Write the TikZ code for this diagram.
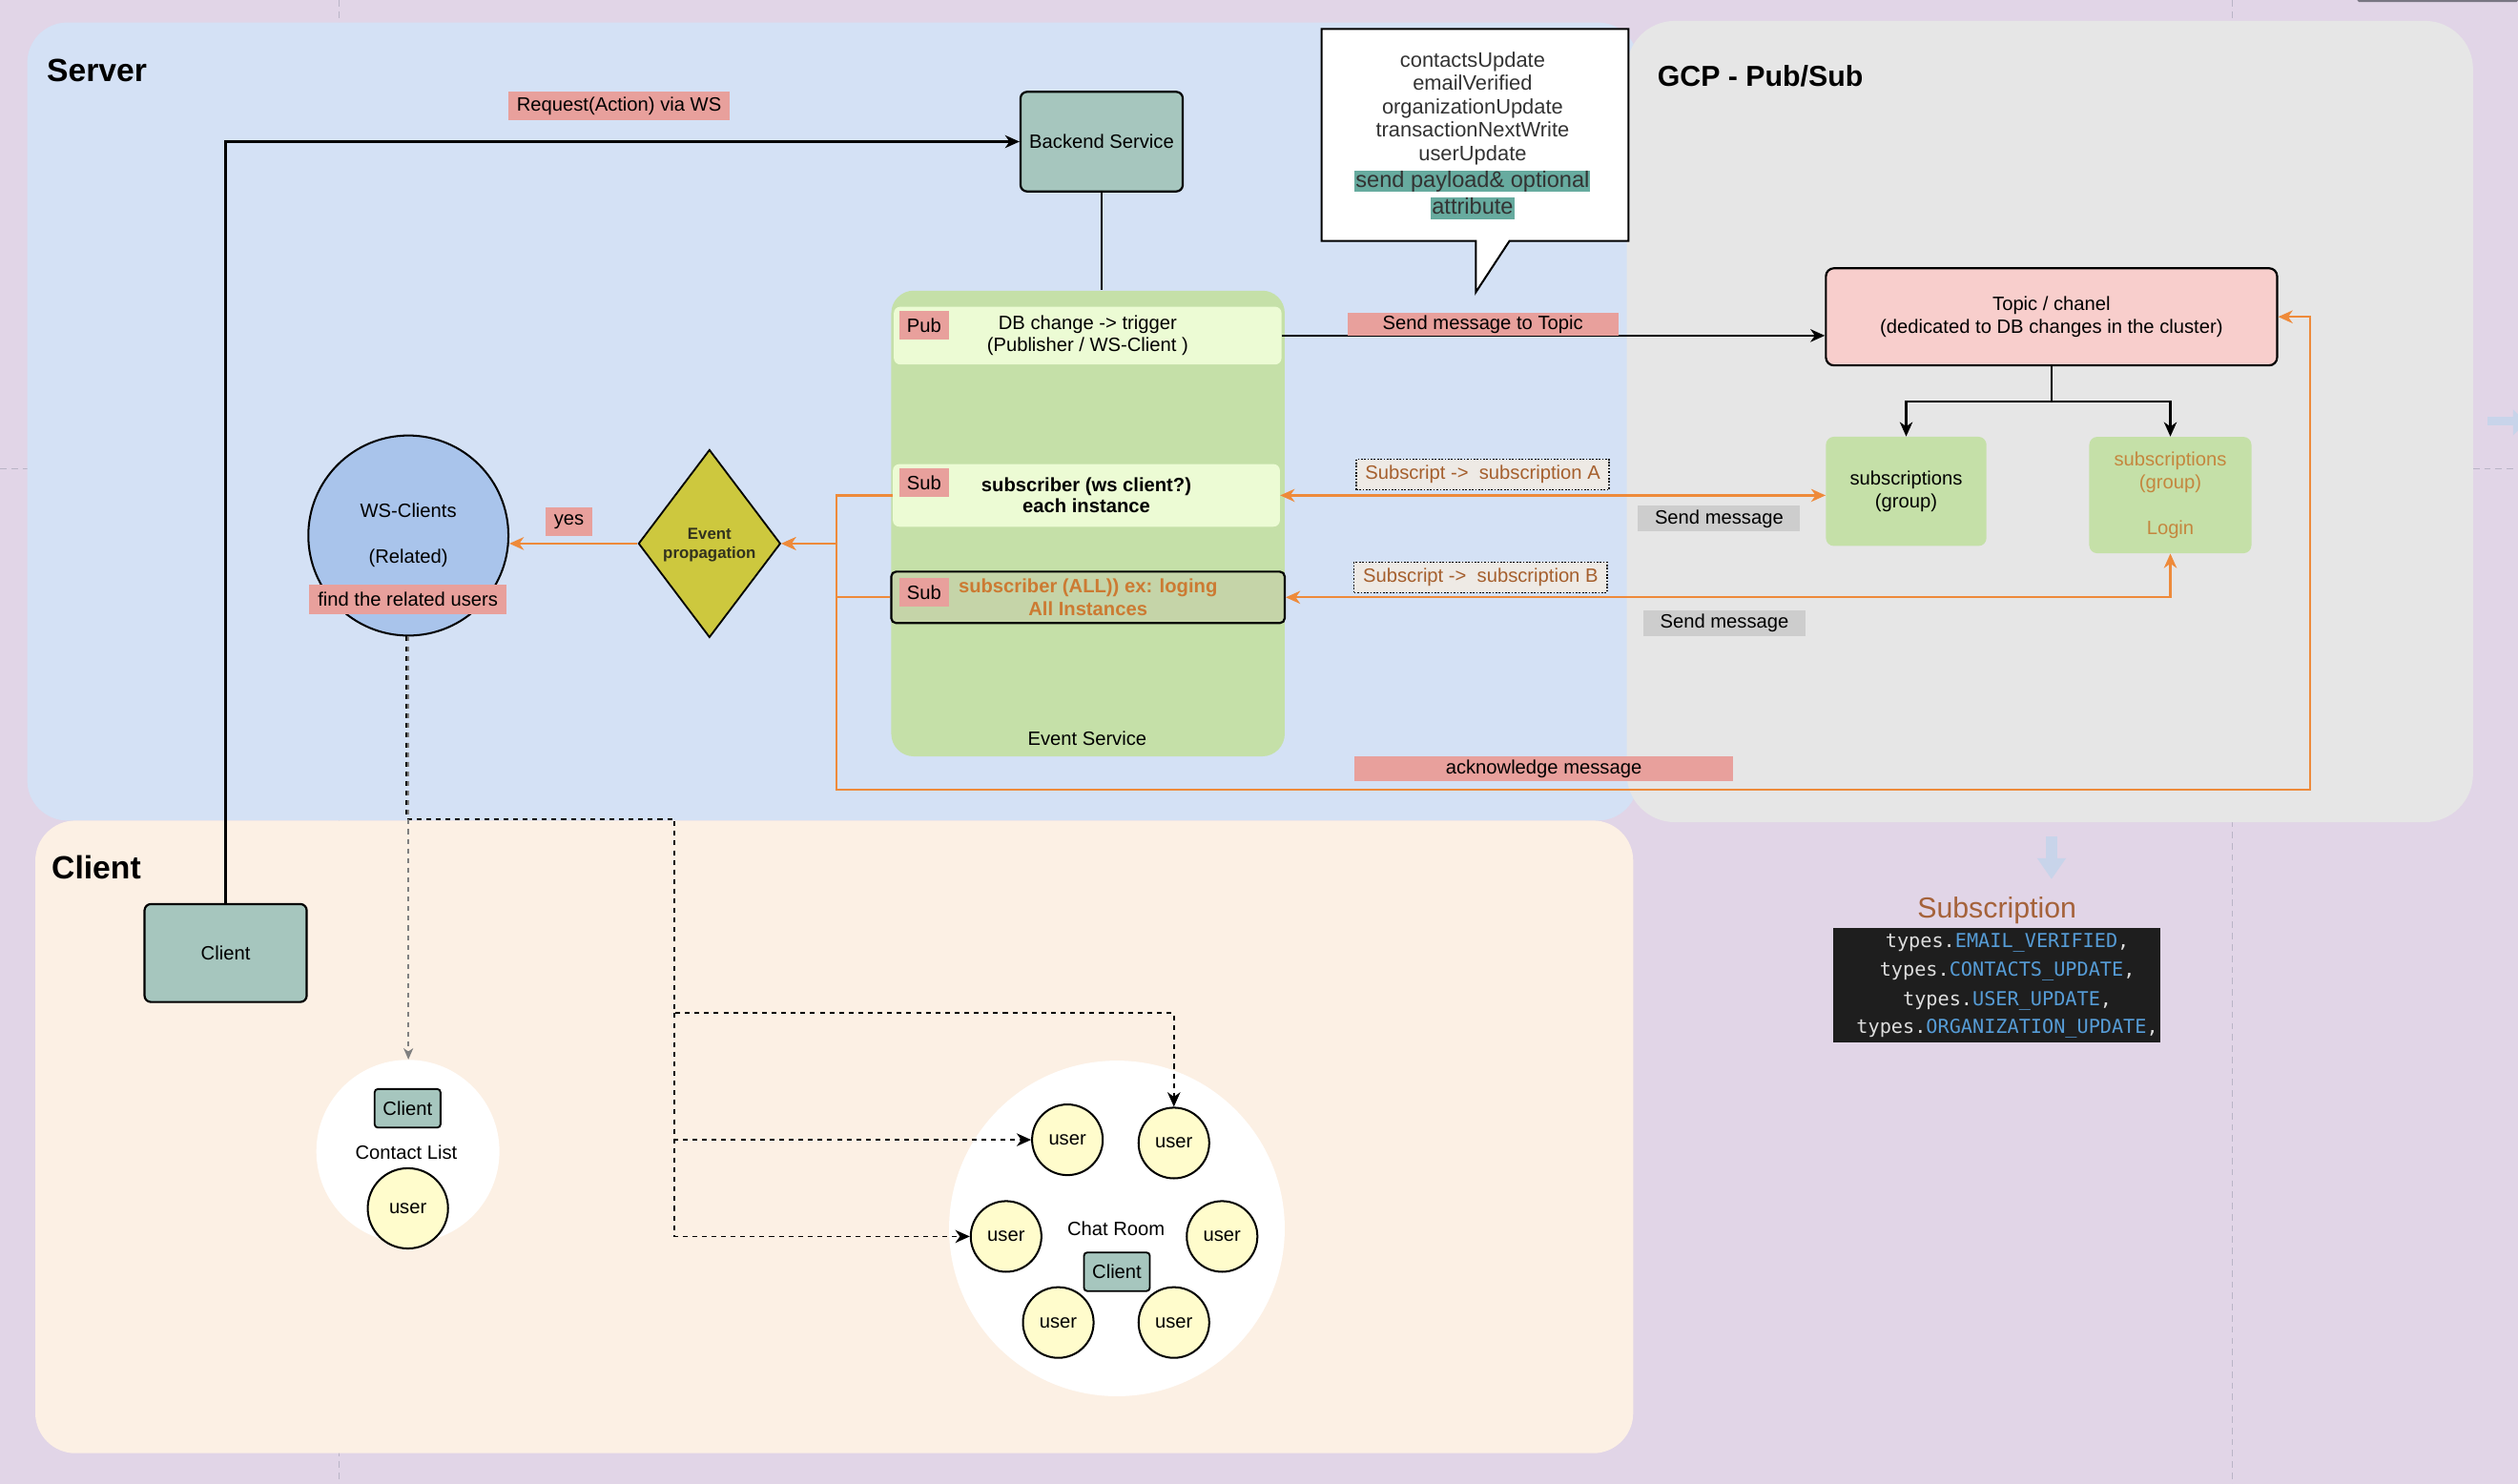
\documentclass[tikz,border=0pt]{standalone}
\usepackage{fontspec}
\setmainfont{Liberation Sans}
\newfontfamily\monofam{DejaVu Sans Mono}
\usetikzlibrary{arrows.meta,shapes.geometric}

\definecolor{cBg}{RGB}{225,213,231}
\definecolor{cSrv}{RGB}{212,225,245}
\definecolor{cGcp}{RGB}{230,230,230}
\definecolor{cCli}{RGB}{252,240,228}
\definecolor{cTeal}{RGB}{166,198,190}
\definecolor{cPink}{RGB}{232,160,156}
\definecolor{cTopic}{RGB}{248,206,204}
\definecolor{cGrn}{RGB}{197,224,168}
\definecolor{cRow}{RGB}{236,251,212}
\definecolor{cRowB}{RGB}{197,212,168}
\definecolor{cDia}{RGB}{205,200,62}
\definecolor{cWs}{RGB}{169,196,235}
\definecolor{cUser}{RGB}{255,252,204}
\definecolor{cOrg}{RGB}{238,138,58}
\definecolor{cOrgTxt}{RGB}{204,122,50}
\definecolor{cLogin}{RGB}{196,134,62}
\definecolor{cSubTxt}{RGB}{165,95,45}
\definecolor{cSubBg}{RGB}{238,234,229}
\definecolor{cGrayL}{RGB}{205,205,205}
\definecolor{cHl}{RGB}{103,171,159}
\definecolor{cTxt}{RGB}{51,51,51}
\definecolor{cCode}{RGB}{30,30,30}
\definecolor{cCodeW}{RGB}{222,222,222}
\definecolor{cCodeB}{RGB}{86,156,214}
\definecolor{cSubscr}{RGB}{165,98,58}
\definecolor{cArrowBlue}{RGB}{200,212,234}
\definecolor{cPage}{RGB}{185,180,198}
\definecolor{cBar}{RGB}{120,118,130}
\definecolor{cDiaTxt}{RGB}{50,50,30}

\tikzset{
  pgline/.style={draw=cPage, line width=0.8pt, dash pattern=on 4pt off 3pt},
  tealbox/.style={draw, line width=1.3pt, fill=cTeal, rounded corners=4pt},
  smallteal/.style={draw, line width=1.1pt, fill=cTeal, rounded corners=2pt, minimum width=41pt, minimum height=24pt},
  pinklbl/.style={fill=cPink},
  taglbl/.style={fill=cPink, minimum width=31pt, minimum height=18pt},
  rowbox/.style={fill=cRow, rounded corners=4pt, align=center},
  grnbox/.style={fill=cGrn, rounded corners=5pt, align=center},
  usernode/.style={circle, draw, line width=1.2pt, fill=cUser, minimum size=44pt},
  graylbl/.style={fill=cGrayL, minimum width=101pt, minimum height=16pt},
  sublbl/.style={fill=cSubBg, draw, line width=0.8pt, dash pattern=on 1pt off 1pt, text=cSubTxt, minimum width=157.5pt, minimum height=19pt},
  blk/.style={draw, line width=1.3pt},
  org/.style={draw=cOrg, line width=1.3pt},
  dsh/.style={draw, line width=1.1pt, dash pattern=on 3pt off 3pt},
  gdsh/.style={draw=gray, line width=0.9pt, dash pattern=on 3pt off 3pt},
  regiontitle/.style={anchor=west, font=\fontsize{20}{24}\selectfont\bfseries},
  codeline/.style={font={\monofam\fontsize{12}{14}\selectfont}, text=cCodeW},
}

\begin{document}
\begin{tikzpicture}[x=1pt, y=-1pt,
  >={Stealth[length=9pt,width=8pt,inset=2.8pt]},
  every node/.style={font=\fontsize{12}{13.8}\selectfont, inner sep=0pt}]

\useasboundingbox (0,0) rectangle (1568,924);
\fill[cBg] (0,0) rectangle (1568,924);

% page guides
\draw[pgline] (211,0) -- (211,924);
\draw[pgline] (1390,0) -- (1390,924);
\draw[pgline] (0,292) -- (1568,292);

% stray marks at the page edges
\fill[cBar, rounded corners=1pt] (1468,-3) rectangle (1568,1.3);
\fill[cArrowBlue] (1549,259.5) rectangle (1565,265);
\fill[cArrowBlue] (1565,255) -- (1568,258) -- (1568,268) -- (1565,271) -- cycle;

% regions
\fill[cSrv, rounded corners=25pt] (17,14) rectangle (1020,511);
\fill[cGcp, rounded corners=30pt] (1013,13) rectangle (1540,512);
\fill[cCli, rounded corners=25pt] (22,511) rectangle (1017,905);

\node[regiontitle] (tSrv) at (29,44) {Server};
\node[anchor=west, font=\fontsize{18}{22}\selectfont\bfseries] (tGcp) at (1032,47.5) {GCP - Pub/Sub};
\node[regiontitle] (tCli) at (32,540) {Client};

% backend and client
\node[tealbox, minimum width=101pt, minimum height=62pt] (backend) at (686,88.2) {Backend Service};
\node[tealbox, minimum width=101pt, minimum height=61pt] (client) at (140.5,593.5) {Client};

% callout with the event names
\draw[fill=white, line width=1.2pt] (823,18) -- (1014,18) -- (1014,150) -- (940,150)
  -- (919,182) -- (919,150) -- (823,150) -- cycle;
\node[align=center, text=cTxt, font=\fontsize{13}{14.5}\selectfont] (events) at (917,67.5)
  {contactsUpdate\\emailVerified\\organizationUpdate\\transactionNextWrite\\userUpdate};
\node[fill=cHl, inner xsep=0.6pt, text height=10.4pt, text depth=3.1pt, text=cTxt,
  font=\fontsize{14}{17}\selectfont] (hl1) at (917,112.8) {send payload\& optional};
\node[fill=cHl, inner xsep=0.6pt, text height=10.4pt, text depth=3.1pt, text=cTxt,
  font=\fontsize{14}{17}\selectfont] (hl2) at (917,129.7) {attribute};

% event service
\node[fill=cGrn, rounded corners=14pt, minimum width=245pt, minimum height=290pt] (evsvc) at (677.5,326) {};
\node (evlbl) at (677,460) {Event Service};
\node[rowbox, minimum width=241.4pt, minimum height=36pt] (pub) at (677.3,209)
  {DB change -> trigger\\(Publisher / WS-Client )};
\node[taglbl] (pubtag) at (575.5,202.5) {Pub};
\node[rowbox, minimum width=241pt, minimum height=39pt, font=\fontsize{12}{13.1}\selectfont\bfseries] (sub1) at (676.5,308.5)
  {subscriber (ws client?)\\each instance};
\node[taglbl] (sub1tag) at (575.5,300.5) {Sub};
\node[draw, line width=1.3pt, fill=cRowB, rounded corners=3pt, minimum width=245pt, minimum height=32pt,
  align=center, text=cOrgTxt, font=\fontsize{12}{14}\selectfont\bfseries] (sub2) at (677.5,372)
  {subscriber (ALL)) ex: loging\\All Instances};
\node[taglbl] (sub2tag) at (575.5,369) {Sub};

% pub/sub side
\node[draw, line width=1.3pt, fill=cTopic, rounded corners=5pt, minimum width=281pt, minimum height=60.5pt,
  align=center, font=\fontsize{12}{14.2}\selectfont] (topic) at (1277.5,197.3)
  {Topic / chanel\\(dedicated to DB changes in the cluster)};
\node[grnbox, minimum width=100pt, minimum height=68pt, font=\fontsize{12}{14.5}\selectfont] (subA) at (1187,306)
  {subscriptions\\(group)};
\node[grnbox, minimum width=101pt, minimum height=72.5pt, text=cLogin, font=\fontsize{12}{14.5}\selectfont] (subB) at (1351.5,308.3)
  {subscriptions\\(group)\\[13.5pt]Login};

% websocket clients and decision
\node[circle, draw, line width=1.2pt, fill=cWs, minimum size=124.6pt, align=center,
  font=\fontsize{12}{14.15}\selectfont] (ws) at (254.3,333.5) {WS-Clients\\[14.15pt](Related)};
\node[pinklbl, minimum width=123pt, minimum height=18.5pt] (findlbl) at (254,373.3) {find the related users};
\node[diamond, draw, line width=1.1pt, fill=cDia, minimum width=88.5pt, minimum height=117pt] (diamond) at (441.8,338.5) {};
\node[align=center, text=cDiaTxt, font=\fontsize{10}{12}\selectfont\bfseries] (evprop) at (441.8,339.5) {Event\\propagation};
\node[pinklbl, minimum width=29pt, minimum height=17.6pt] (yeslbl) at (354.3,324.8) {yes};

% contact list
\node[circle, fill=white, minimum size=114pt] (contact) at (254,717) {};
\node[smallteal] (clc) at (253.8,690.2) {Client};
\node (cltxt) at (253,717.5) {Contact List};
\node[usernode, minimum size=50pt] (cu) at (254,752.5) {user};

% chat room
\node[circle, fill=white, minimum size=209pt] (chat) at (695.5,765) {};
\node (chattxt) at (695,765) {Chat Room};
\node[smallteal] (crc) at (695.5,792) {Client};
\node[usernode] (u1) at (664.7,709.8) {user};
\node[usernode] (u2) at (731,711.8) {user};
\node[usernode] (u3) at (626.5,770) {user};
\node[usernode] (u4) at (761,770) {user};
\node[usernode] (u5) at (659,823.6) {user};
\node[usernode] (u6) at (731,823.6) {user};

% subscription list
\fill[cArrowBlue] (1274,520.7) rectangle (1281,534.5);
\fill[cArrowBlue] (1268.6,534.5) -- (1286.5,534.5) -- (1277.5,547.4) -- cycle;
\node[text=cSubscr, font=\fontsize{18}{21}\selectfont] (subsTitle) at (1243.5,567) {Subscription};
\node[fill=cCode, minimum width=203.5pt, minimum height=71pt] (code) at (1243.3,613.5) {};
\node[codeline] (c1) at (1250,587) {types.\textcolor{cCodeB}{EMAIL\_VERIFIED},};
\node[codeline] (c2) at (1250,605) {types.\textcolor{cCodeB}{CONTACTS\_UPDATE},};
\node[codeline] (c3) at (1250,623) {types.\textcolor{cCodeB}{USER\_UPDATE},};
\node[codeline] (c4) at (1250,640.5) {types.\textcolor{cCodeB}{ORGANIZATION\_UPDATE},};

% ---- connectors ----
\coordinate (split) at (1277.5,250);
\coordinate (jx) at (521,338.5);
\coordinate (ackL) at (521,492);
\coordinate (ackR) at (1438.5,492);
\coordinate (dA) at (420,510);
\coordinate (dB) at (420,631);

\draw[blk,->] (client.north) |- (backend.west);
\draw[blk, line width=1pt] (backend.south) -- (backend.south |- evsvc.north);
\draw[blk,->] (pub.east) -- (pub.east -| topic.west);
\draw[blk] (topic.south) -- (split);
\draw[blk,->] (split) -| (subA.north);
\draw[blk,->] (split) -| (subB.north);

\draw[org,<->] (sub1.east) -- (sub1.east -| subA.west);
\draw[org,<->] (subB.south) |- (sub2.east);
\draw[org,->] (sub1.west) -| (jx) -- (diamond.east);
\draw[org,->] (sub2.west) -| (jx) -- (diamond.east);
\draw[org,->] (sub2.west) -| (ackL) -- (ackR) |- (topic.east);
\draw[org,->] (diamond.west) -- (diamond.west -| ws.east);

\draw[dsh,->] ([xshift=-1.2pt]ws.south) |- (dA) -- (dB) -| (u2.north);
\draw[dsh,->] (dB) |- (u1.west);
\draw[dsh,->] (dB) |- (u3.west);
\draw[gdsh,-{Stealth[length=7pt,width=6pt,inset=2pt]}] (ws.south) -- (ws.south |- contact.north);

% ---- connector labels ----
\node[pinklbl, minimum width=138pt, minimum height=18pt] (reqlbl) at (385.5,66) {Request(Action) via WS};
\node[pinklbl, minimum width=168.5pt, minimum height=14pt] (sendtopic) at (923.4,202) {Send message to Topic};
\node[sublbl] (subAlbl) at (923.3,295.5) {Subscript -> \ subscription A};
\node[sublbl] (subBlbl) at (922,359.5) {Subscript -> \ subscription B};
\node[graylbl] (sendA) at (1070.5,323) {Send message};
\node[graylbl] (sendB) at (1073.8,388) {Send message};
\node[pinklbl, minimum width=235.5pt, minimum height=15.6pt] (acklbl) at (961.3,478.8) {acknowledge message};

\end{tikzpicture}
\end{document}
